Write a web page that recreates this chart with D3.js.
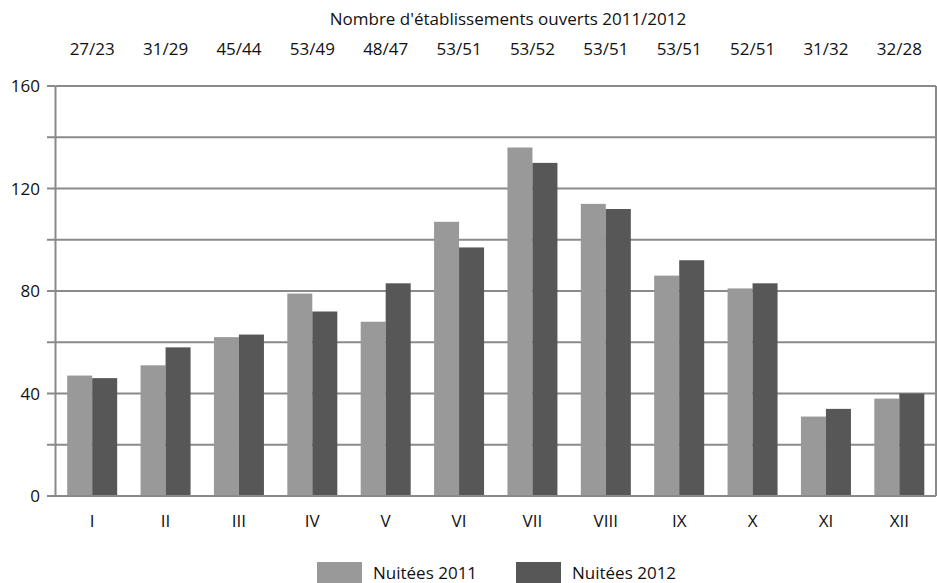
<!DOCTYPE html>
<html>
<head>
<meta charset="utf-8">
<script src="https://cdn.jsdelivr.net/npm/d3@7"></script>
<style>
  body { margin: 0; background: #fff; }
  text { font-family: "Open Sans", sans-serif; fill: #111; }
</style>
</head>
<body>
<div id="viz-container"></div>
<script>
let months = ["I","II","III","IV","V","VI","VII","VIII","IX","X","XI","XII"];
let etab = ["27/23","31/29","45/44","53/49","48/47","53/51","53/52","53/51","53/51","52/51","31/32","32/28"];
let nuitees2011 = [47,51,62,79,68,107,136,114,86,81,31,38];
let nuitees2012 = [46,58,63,72,83,97,130,112,92,83,34,40];
let yTicks = [0,40,80,120,160];
let series = ["Nuitées 2011","Nuitées 2012"];
let colors = ["#999999","#575757"];

let W = 937, H = 583;
let plotL = 55.5, plotR = 936, plotT = 86, plotB = 496;
let fs = 17;

let viz = d3.select("#viz-container")
              .append("svg")
                .attr("width", W)
                .attr("height", H)
;

let x = d3.scaleBand().domain(months).range([plotL, plotR]);
let x1 = d3.scaleBand().domain([0,1]).range([0, 50]);
let y = d3.scaleLinear().domain([0,160]).range([plotB, plotT]);

// gridlines every 20
viz.append("g").selectAll("line").data(d3.range(20,161,20)).enter().append("line")
    .attr("x1", plotL).attr("x2", plotR)
    .attr("y1", d => y(d)).attr("y2", d => y(d))
    .attr("stroke", "#8a8a8a").attr("stroke-width", 2);

// left tick marks
viz.append("g").selectAll("line").data(d3.range(0,161,20)).enter().append("line")
    .attr("x1", 47).attr("x2", plotL)
    .attr("y1", d => y(d)).attr("y2", d => y(d))
    .attr("stroke", "#8a8a8a").attr("stroke-width", 2);

// bars
let groups = viz.append("g").selectAll("g").data(months).enter().append("g")
    .attr("transform", d => "translate(" + (x(d) + x.bandwidth()/2 - 25) + ",0)");

groups.selectAll("rect").data((d, i) => [nuitees2011[i], nuitees2012[i]]).enter().append("rect")
    .attr("x", (d, j) => x1(j))
    .attr("width", x1.bandwidth())
    .attr("y", d => y(d))
    .attr("height", d => y(0) - y(d))
    .attr("fill", (d, j) => colors[j]);

// frame
viz.append("line").attr("x1", plotL).attr("x2", plotL).attr("y1", plotT).attr("y2", plotB)
    .attr("stroke", "#8a8a8a").attr("stroke-width", 2);
viz.append("line").attr("x1", plotR).attr("x2", plotR).attr("y1", plotT).attr("y2", plotB)
    .attr("stroke", "#8a8a8a").attr("stroke-width", 2);
viz.append("line").attr("x1", 47).attr("x2", plotR).attr("y1", plotB).attr("y2", plotB)
    .attr("stroke", "#8a8a8a").attr("stroke-width", 2);

// y labels
viz.append("g").selectAll("text").data(yTicks).enter().append("text")
    .attr("x", 40).attr("y", d => y(d) + 6)
    .attr("text-anchor", "end")
    .attr("font-size", fs)
    .text(d => d);

// x labels
viz.append("g").selectAll("text").data(months).enter().append("text")
    .attr("x", d => x(d) + x.bandwidth()/2)
    .attr("y", 527)
    .attr("text-anchor", "middle")
    .attr("font-size", fs)
    .text(d => d);

// title + establishment counts
viz.append("text")
    .attr("x", 508).attr("y", 25)
    .attr("text-anchor", "middle")
    .attr("font-size", fs)
    .text("Nombre d'établissements ouverts 2011/2012");

viz.append("g").selectAll("text").data(etab).enter().append("text")
    .attr("x", (d, i) => x(months[i]) + x.bandwidth()/2)
    .attr("y", 55)
    .attr("text-anchor", "middle")
    .attr("font-size", fs)
    .text(d => d);

// legend
let legX = [317, 516];
let leg = viz.append("g").selectAll("g").data(series).enter().append("g")
    .attr("transform", (d, i) => "translate(" + legX[i] + ",562)");
leg.append("rect").attr("width", 45).attr("height", 21).attr("fill", (d, i) => colors[i]);
leg.append("text").attr("x", 56).attr("y", 17).attr("font-size", fs).text(d => d);
</script>
</body>
</html>
